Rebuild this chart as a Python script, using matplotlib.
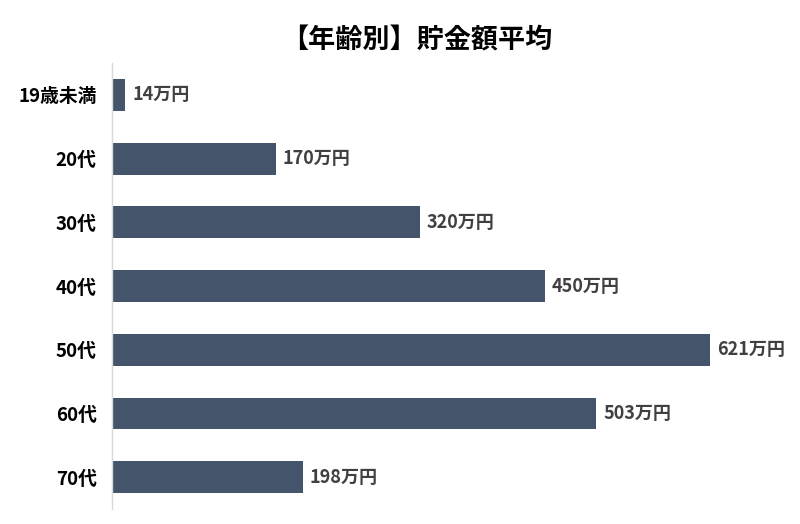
import matplotlib
matplotlib.use("Agg")
import matplotlib.pyplot as plt

plt.rcParams['font.family'] = ['Noto Sans CJK JP', 'DejaVu Sans']

categories = ["19歳未満", "20代", "30代", "40代", "50代", "60代", "70代"]
values = [14, 170, 320, 450, 621, 503, 198]
labels = ["14万円", "170万円", "320万円", "450万円", "621万円", "503万円", "198万円"]
title = "【年齢別】貯金額平均"

fig = plt.figure(figsize=(8, 5.24), dpi=100)
ax = fig.add_axes([112/800, 1-509/524, 648/800, 446/524])
y = list(range(len(categories)))
ax.barh(y, values, height=0.5, color="#44546A")
ax.set_ylim(len(categories)-0.5, -0.5)
ax.set_xlim(0, 673)
ax.set_yticks(y)
ax.set_yticklabels(categories, fontsize=13.5, fontweight='bold', color='black')
ax.tick_params(axis='y', length=0, pad=11)
ax.set_xticks([])
for s in ['top', 'right', 'bottom']:
    ax.spines[s].set_visible(False)
ax.spines['left'].set_color('#D9D9D9')
ax.spines['left'].set_linewidth(1)
for yi, v, l in zip(y, values, labels):
    ax.text(v + 7, yi, l, va='center', ha='left', fontsize=13, fontweight='bold', color='#404040')
fig.text(417/800, 1-40/524, title, ha='center', va='center', fontsize=19.5, fontweight='bold', color='black')
fig.savefig("out.png", dpi=100)
